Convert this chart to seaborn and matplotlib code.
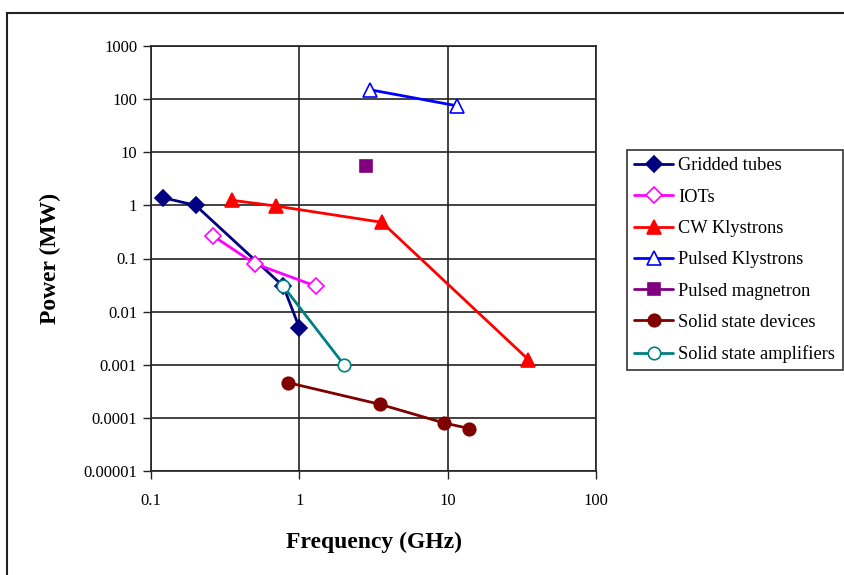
import matplotlib
matplotlib.use("Agg")
import matplotlib.pyplot as plt
import seaborn as sns
import pandas as pd
from matplotlib.patches import Rectangle
from matplotlib.ticker import FixedLocator, FixedFormatter, NullLocator

sns.set_theme(style="white")
plt.rcParams['font.family'] = ['Liberation Serif', 'DejaVu Serif']

series_names = ["Gridded tubes", "IOTs", "CW Klystrons", "Pulsed Klystrons",
                "Pulsed magnetron", "Solid state devices", "Solid state amplifiers"]

gridded_f = [0.12, 0.2, 0.78, 1.0]
gridded_p = [1.4, 1.0, 0.03, 0.005]
iot_f = [0.26, 0.5, 1.3]
iot_p = [0.27, 0.08, 0.03]
cw_f = [0.35, 0.7, 3.6, 35]
cw_p = [1.25, 0.97, 0.48, 0.00125]
pk_f = [3.0, 11.5]
pk_p = [150, 75]
mag_f = [2.8]
mag_p = [5.5]
ssd_f = [0.84, 3.5, 9.5, 14]
ssd_p = [0.00046, 0.00018, 0.00008, 0.000063]
ssa_f = [0.78, 2.0]
ssa_p = [0.03, 0.001]

x_ticks = [0.1, 1, 10, 100]
x_labels = ["0.1", "1", "10", "100"]
y_ticks = [0.00001, 0.0001, 0.001, 0.01, 0.1, 1, 10, 100, 1000]
y_labels = ["0.00001", "0.0001", "0.001", "0.01", "0.1", "1", "10", "100", "1000"]

styles = [
    dict(color="#000080", marker="D", mfc="#000080", ms=8),
    dict(color="#FF00FF", marker="D", mfc="white", ms=8),
    dict(color="#FF0000", marker="^", mfc="#FF0000", ms=10),
    dict(color="#0000FF", marker="^", mfc="white", ms=10),
    dict(color="#800080", marker="s", mfc="#800080", ms=9),
    dict(color="#800000", marker="o", mfc="#800000", ms=9),
    dict(color="#008080", marker="o", mfc="white", ms=9),
]
data = [(gridded_f, gridded_p), (iot_f, iot_p), (cw_f, cw_p), (pk_f, pk_p),
        (mag_f, mag_p), (ssd_f, ssd_p), (ssa_f, ssa_p)]

fig = plt.figure(figsize=(8.44, 5.75), dpi=100)
ax = fig.add_axes([151/844, 1-471/575, (596-151)/844, (471-46)/575])

for name, (f, p), st in zip(series_names, data, styles):
    df = pd.DataFrame({"f": f, "p": p})
    sns.lineplot(data=df, x="f", y="p", ax=ax, sort=False, color=st["color"],
                 marker=st["marker"], markerfacecolor=st["mfc"],
                 markeredgecolor=st["color"], markersize=st["ms"],
                 markeredgewidth=1.2, linewidth=2, label=name)

ax.set_xscale("log")
ax.set_yscale("log")
ax.set_xlim(0.1, 100)
ax.set_ylim(0.00001, 1000)
ax.xaxis.set_major_locator(FixedLocator(x_ticks))
ax.xaxis.set_major_formatter(FixedFormatter(x_labels))
ax.yaxis.set_major_locator(FixedLocator(y_ticks))
ax.yaxis.set_major_formatter(FixedFormatter(y_labels))
ax.xaxis.set_minor_locator(NullLocator())
ax.yaxis.set_minor_locator(NullLocator())
ax.grid(True, which="major", color="#222222", linewidth=1.2)
ax.set_axisbelow(True)
for s in ax.spines.values():
    s.set_color("#222222")
    s.set_linewidth(1.2)
ax.tick_params(axis="y", which="major", left=True, length=6, width=1, color="#222222",
               labelsize=12, pad=4)
ax.tick_params(axis="x", which="major", bottom=True, length=6, width=1, color="#222222",
               labelsize=12, pad=10)
for lab in ax.get_xticklabels() + ax.get_yticklabels():
    lab.set_color("black")

ax.set_xlabel("Frequency (GHz)", fontsize=17, fontweight="bold", color="black", labelpad=16)
ax.set_ylabel("Power (MW)", fontsize=17, fontweight="bold", color="black", labelpad=16)

leg = ax.legend(loc="upper left", bbox_to_anchor=(627/844, 1-150/575),
                bbox_transform=fig.transFigure, frameon=True, fancybox=False,
                edgecolor="black", fontsize=13.2, handlelength=2.1, labelspacing=0.78,
                borderpad=0.4, handletextpad=0.3, borderaxespad=0)
leg.get_frame().set_linewidth(1.2)
for t in leg.get_texts():
    t.set_color("black")

fig.patches.append(Rectangle((7/844, -0.1), 1.0, 1 - 13/575 + 0.1, transform=fig.transFigure,
                             fill=False, edgecolor="#222222", linewidth=1.5))

fig.savefig("out.png", dpi=100)
